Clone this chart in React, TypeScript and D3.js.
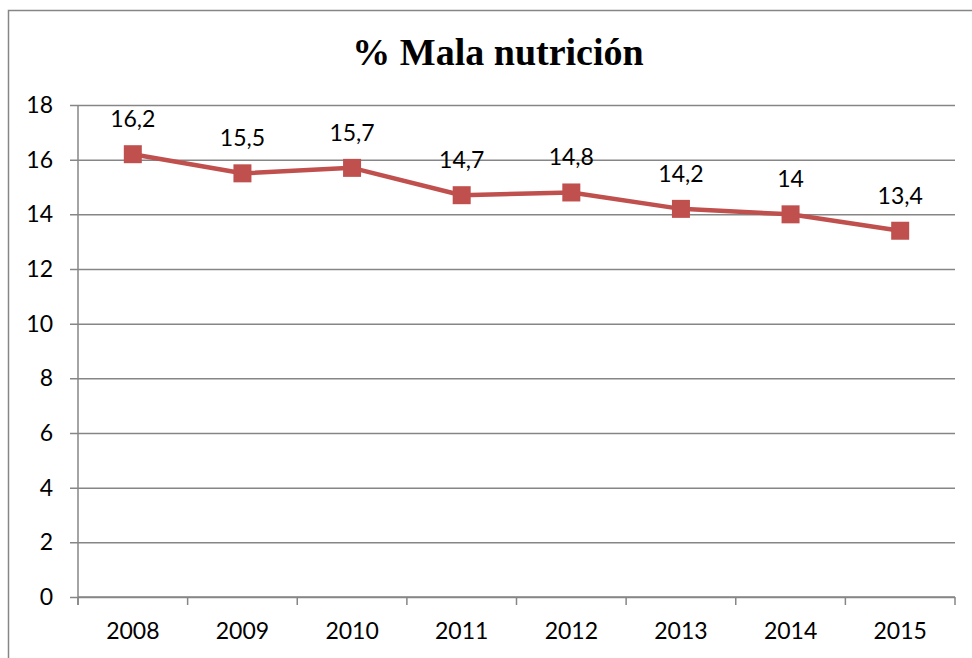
import { useEffect, useRef } from 'react';
import * as d3 from 'd3';

const years = ["2008", "2009", "2010", "2011", "2012", "2013", "2014", "2015"];
const malnutrition = [16.2, 15.5, 15.7, 14.7, 14.8, 14.2, 14, 13.4];
const yTicks = [0, 2, 4, 6, 8, 10, 12, 14, 16, 18];

export default function App() {
    const ref = useRef<SVGSVGElement>(null);

    useEffect(() => {
        if (!ref.current) return;
        const svg = d3.select(ref.current);
        svg.selectAll("*").remove();

        const width = 972;
        const height = 658;
        const marginLeft = 78;
        const marginRight = 17;
        const plotTop = 105;
        const plotBottom = 597;
        const font = "Lato, 'Open Sans', sans-serif";
        const fontSize = "23px";
        const red = "#C0504D";
        const grey = "#868686";

        // Chart frame
        svg.append("rect")
            .attr("x", 8.5)
            .attr("y", 10.5)
            .attr("width", width + 20)
            .attr("height", height + 20)
            .attr("fill", "white")
            .attr("stroke", grey)
            .attr("stroke-width", 1.5);

        const x = d3.scaleBand()
            .domain(years)
            .range([marginLeft, width - marginRight]);

        const y = d3.scaleLinear()
            .domain([0, 18])
            .range([plotBottom, plotTop]);

        // Title
        svg.append("text")
            .attr("x", 498)
            .attr("y", 65)
            .attr("text-anchor", "middle")
            .style("font-family", "'Liberation Serif', 'Times New Roman', serif")
            .style("font-weight", "bold")
            .style("font-size", "38px")
            .text("% Mala nutrición");

        // Horizontal gridlines + y labels
        const yAxis = svg.append("g")
            .attr("transform", `translate(${marginLeft},0)`)
            .call(d3.axisLeft(y)
                .tickValues(yTicks)
                .tickSize(-(width - marginRight - marginLeft))
                .tickSizeOuter(0)
                .tickPadding(25)
                .tickFormat(d3.format("d")))
            .call(g => g.select(".domain").remove());
        yAxis.selectAll(".tick line")
            .attr("x1", -8)
            .attr("stroke", grey)
            .attr("stroke-width", 1.5);
        yAxis.selectAll(".tick text")
            .attr("fill", "black")
            .style("font-family", font)
            .style("font-size", fontSize);

        // Vertical axis line
        svg.append("line")
            .attr("x1", marginLeft).attr("x2", marginLeft)
            .attr("y1", plotTop).attr("y2", plotBottom + 8)
            .attr("stroke", grey)
            .attr("stroke-width", 1.5);

        // X axis
        const xAxis = svg.append("g")
            .attr("transform", `translate(0,${plotBottom})`)
            .call(d3.axisBottom(x).tickSize(0).tickPadding(26));
        xAxis.select(".domain").remove();
        xAxis.selectAll(".tick text")
            .attr("fill", "black")
            .style("font-family", font)
            .style("font-size", fontSize);

        const boundaries = years.map((d) => x(d)!).concat([width - marginRight]);
        svg.append("g")
            .selectAll("line")
            .data(boundaries)
            .join("line")
            .attr("x1", d => d).attr("x2", d => d)
            .attr("y1", plotBottom).attr("y2", plotBottom + 8)
            .attr("stroke", grey)
            .attr("stroke-width", 1.5);
        svg.append("line")
            .attr("x1", marginLeft).attr("x2", width - marginRight)
            .attr("y1", plotBottom).attr("y2", plotBottom)
            .attr("stroke", grey)
            .attr("stroke-width", 1.5);

        // Series line
        const cx = (d: string) => x(d)! + x.bandwidth() / 2;
        const line = d3.line<number>()
            .x((_, i) => cx(years[i]))
            .y(d => y(d));

        svg.append("path")
            .datum(malnutrition)
            .attr("fill", "none")
            .attr("stroke", red)
            .attr("stroke-width", 4.5)
            .attr("stroke-linejoin", "round")
            .attr("d", line);

        // Square markers
        svg.append("g")
            .selectAll("rect")
            .data(malnutrition)
            .join("rect")
            .attr("x", (_, i) => cx(years[i]) - 9)
            .attr("y", d => y(d) - 9)
            .attr("width", 18)
            .attr("height", 18)
            .attr("fill", red);

        // Data labels
        svg.append("g")
            .selectAll("text")
            .data(malnutrition)
            .join("text")
            .attr("x", (_, i) => cx(years[i]))
            .attr("y", d => y(d) - 27)
            .attr("text-anchor", "middle")
            .style("font-family", font)
            .style("font-size", fontSize)
            .text(d => String(d).replace(".", ","));
    }, []);

    return (
        <svg ref={ref} width={972} height={658}
            style={{ position: "fixed", top: 0, left: 0, background: "white" }}></svg>
    );
}
